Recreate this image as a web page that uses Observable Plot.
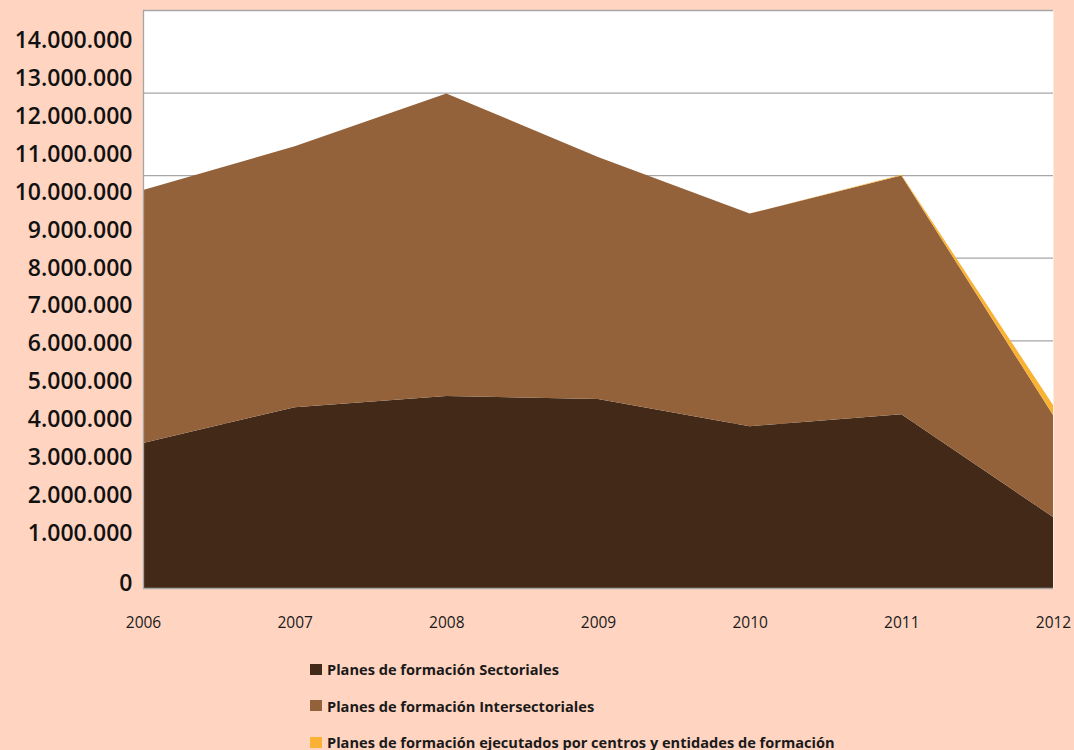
<!DOCTYPE html>
<html>
<head>
<meta charset="utf-8">
<script src="https://cdn.jsdelivr.net/npm/d3@7"></script>
<script src="https://cdn.jsdelivr.net/npm/@observablehq/plot@0.6"></script>
<style>
  html, body { margin: 0; padding: 0; background: #FFD4C0; }
  body { width: 1074px; height: 750px; overflow: hidden; font-family: "Open Sans", sans-serif; }
  #legend { padding-left: 310px; padding-top: 6px; }
  .item { height: 36.5px; line-height: 36.5px; font-size: 14.6px; font-weight: 700; color: #1a1a1a; display: flex; align-items: center; }
  .sw { width: 12px; height: 11px; margin-right: 5px; display: inline-block; }
</style>
</head>
<body>
<div id="chart"></div>
<div id="legend"></div>
<script>
const years = [2006, 2007, 2008, 2009, 2010, 2011, 2012];
const seriesNames = [
  "Planes de formación Sectoriales",
  "Planes de formación Intersectoriales",
  "Planes de formación ejecutados por centros  y entidades de formación"
];
const sectoriales      = [3510000, 4380000, 4650000, 4580000, 3920000, 4210000, 1720000];
const intersectoriales = [6130000, 6320000, 7330000, 5860000, 5150000, 5780000, 2470000];
const centros          = [0, 0, 0, 0, 0, 20000, 240000];
const colors = ["#422918", "#93623A", "#F9B233"];
const yTickLabels = [0, 1000000, 2000000, 3000000, 4000000, 5000000, 6000000, 7000000,
  8000000, 9000000, 10000000, 11000000, 12000000, 13000000, 14000000];
const gridValues = [2000000, 4000000, 6000000, 8000000, 10000000, 12000000, 14000000];

const allSeries = [sectoriales, intersectoriales, centros];
const data = [];
allSeries.forEach((vals, si) => {
  years.forEach((yr, i) => data.push({year: yr, value: vals[i], series: seriesNames[si]}));
});

// the reference's y labels sit on their own slightly compressed ladder
const labelPos = d3.scaleLinear().domain([0, 1e6, 14e6]).range([0.12e6, 1.33e6, 13.27e6]);
const fmt = v => v === 0 ? "0" : d3.format(",")(v).replace(/,/g, ".");

const chart = Plot.plot({
  width: 1074,
  height: 645,
  marginLeft: 143,
  marginRight: 21,
  marginTop: 10,
  marginBottom: 57,
  style: {background: "transparent", overflow: "visible"},
  x: {domain: [2006, 2012], label: null},
  y: {domain: [0, 14000000], label: null},
  color: {domain: seriesNames, range: colors},
  marks: [
    Plot.frame({fill: "white", stroke: null}),
    Plot.ruleY(gridValues, {stroke: "#A6A6A6", strokeWidth: 1.3}),
    Plot.areaY(data, Plot.stackY({order: seriesNames}, {x: "year", y: "value", fill: "series", z: "series"})),
    Plot.ruleY([0], {stroke: "#A6A6A6", strokeWidth: 1.3}),
    Plot.ruleX([2006], {stroke: "#A6A6A6", strokeWidth: 1.3}),
    Plot.axisX({ticks: years, tickFormat: d => String(d), tickSize: 0, tickPadding: 28, label: null,
      fontSize: 15.5, fill: "#1a1a1a", fontFamily: "Open Sans"}),
    Plot.axisY({ticks: yTickLabels.map(v => labelPos(v)), label: null,
      tickFormat: (d, i) => fmt(yTickLabels[i]), tickSize: 0, tickPadding: 11,
      fontSize: 23, fontWeight: 600, fill: "#111", fontFamily: "Open Sans"})
  ]
});
document.getElementById("chart").appendChild(chart);

const legend = document.getElementById("legend");
seriesNames.forEach((name, i) => {
  const row = document.createElement("div");
  row.className = "item";
  const sw = document.createElement("span");
  sw.className = "sw";
  sw.style.background = colors[i];
  row.appendChild(sw);
  row.appendChild(document.createTextNode(name));
  legend.appendChild(row);
});
</script>
</body>
</html>
